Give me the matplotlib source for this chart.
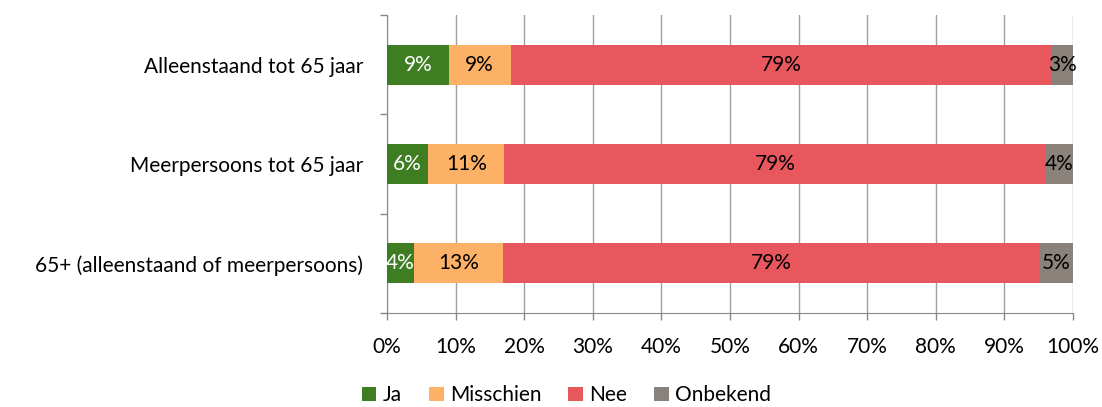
import matplotlib.pyplot as plt
import numpy as np

categories = ['65+ (alleenstaand of meerpersoons)', 'Meerpersoons tot 65 jaar', 'Alleenstaand tot 65 jaar']
series = ['Ja', 'Misschien', 'Nee', 'Onbekend']
# values per series, in category order (bottom to top)
ja = [3.9, 6.0, 9.0]
misschien = [13.0, 11.1, 9.0]
nee = [78.1, 79.0, 78.9]
onbekend = [5.0, 3.9, 3.1]
labels = {
    'Ja': ['4%', '6%', '9%'],
    'Misschien': ['13%', '11%', '9%'],
    'Nee': ['79%', '79%', '79%'],
    'Onbekend': ['5%', '4%', '3%'],
}
colors = {'Ja': '#3F7D22', 'Misschien': '#FCB166', 'Nee': '#E8575E', 'Onbekend': '#8B817B'}
text_colors = {'Ja': 'white', 'Misschien': 'black', 'Nee': 'black', 'Onbekend': 'black'}

plt.rcParams['font.family'] = ['Lato', 'DejaVu Sans']
plt.rcParams['font.size'] = 15

fig = plt.figure(figsize=(11.02, 4.07), dpi=100)
ax = fig.add_axes([0.3512, 0.231, 0.6225, 0.732])

y = np.arange(len(categories))
left = np.zeros(len(categories))
for name, vals in zip(series, [ja, misschien, nee, onbekend]):
    bars = ax.barh(y, vals, left=left, height=0.4, color=colors[name], label=name, zorder=3)
    for b, lab, l, v in zip(bars, labels[name], left, vals):
        ax.text(l + v / 2, b.get_y() + b.get_height() / 2, lab, ha='center', va='center',
                color=text_colors[name], zorder=4)
    left += np.array(vals)

ax.set_xlim(0, 100)
ax.set_ylim(-0.5, 2.5)
ax.set_xticks(np.arange(0, 101, 10))
ax.set_xticklabels([f'{v}%' for v in range(0, 101, 10)])
ax.set_yticks(y)
ax.set_yticklabels(categories)
ax.set_yticks([-0.5, 0.5, 1.5, 2.5], minor=True)
ax.tick_params(axis='y', which='major', length=0, pad=17)
ax.tick_params(axis='y', which='minor', length=5, color='#888888', width=1)
ax.tick_params(axis='x', length=5, color='#888888', width=1, pad=12)

ax.grid(axis='x', color='#A0A0A0', linewidth=1, zorder=0)
ax.set_axisbelow(True)
for s in ['top', 'right']:
    ax.spines[s].set_visible(False)
ax.spines['left'].set_color('#888888')
ax.spines['bottom'].set_color('#888888')

fig.legend(loc='lower center', bbox_to_anchor=(0.514, -0.042), ncol=4, frameon=False,
           handlelength=0.7, handleheight=0.7, handletextpad=0.3, columnspacing=1.3)

fig.savefig('out.png', dpi=100)
